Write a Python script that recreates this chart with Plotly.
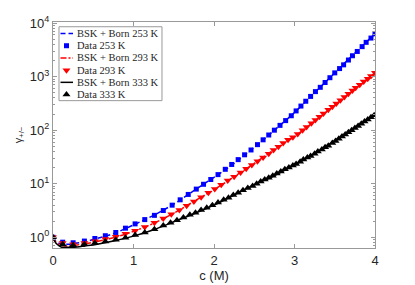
import plotly.graph_objects as go

# ---- data: markers ----
c_253 = [0, 0.12, 0.25, 0.39, 0.52, 0.65, 0.78, 0.90, 1.02, 1.14,
         1.26, 1.37, 1.48, 1.58, 1.68, 1.78, 1.87, 1.96, 2.05, 2.14,
         2.22, 2.30, 2.38, 2.46, 2.54, 2.61, 2.68, 2.75, 2.82, 2.89,
         2.96, 3.02, 3.08, 3.14, 3.20, 3.26, 3.32, 3.38, 3.44, 3.50,
         3.56, 3.61, 3.67, 3.72, 3.78, 3.84, 3.89, 3.95, 4.00]
g_253 = [1.0, 0.81, 0.79, 0.85, 0.95, 1.07, 1.23, 1.48, 1.78, 2.14,
         2.57, 3.16, 3.98, 5.01, 6.31, 7.94, 9.77, 12.0, 14.8, 18.6,
         22.9, 28.2, 34.7, 42.7, 53.7, 66.1, 81.3, 100, 123, 151,
         186, 229, 282, 347, 427, 525, 631, 776, 955, 1175,
         1413, 1660, 2042, 2455, 2951, 3631, 4365, 5248, 6310]

c_293 = [0, 0.12, 0.25, 0.39, 0.52, 0.65, 0.78, 0.90, 1.02, 1.14,
         1.26, 1.37, 1.47, 1.57, 1.66, 1.75, 1.84, 1.93, 2.01, 2.09,
         2.17, 2.25, 2.33, 2.40, 2.47, 2.54, 2.61, 2.68, 2.74, 2.80,
         2.86, 2.92, 2.98, 3.04, 3.10, 3.15, 3.21, 3.26, 3.31, 3.36,
         3.42, 3.47, 3.52, 3.57, 3.62, 3.67, 3.72, 3.76, 3.81, 3.86,
         3.91, 3.95, 4.00]
g_293 = [1.0, 0.78, 0.74, 0.78, 0.84, 0.93, 1.02, 1.16, 1.33, 1.55,
         1.86, 2.24, 2.69, 3.24, 3.89, 4.68, 5.62, 6.76, 7.94, 9.55,
         11.5, 13.5, 16.2, 19.1, 22.4, 26.3, 30.9, 36.3, 42.7, 49.0,
         57.5, 66.1, 74.1, 85.1, 100, 115, 135, 155, 178, 204,
         240, 275, 316, 363, 417, 479, 550, 617, 708, 813,
         912, 1023, 1175]

c_333 = [0, 0.12, 0.25, 0.39, 0.52, 0.65, 0.78, 0.90, 1.02, 1.14,
         1.26, 1.37, 1.46, 1.54, 1.62, 1.70, 1.77, 1.84, 1.91, 1.98,
         2.05, 2.12, 2.18, 2.24, 2.30, 2.36, 2.42, 2.48, 2.53, 2.58,
         2.63, 2.68, 2.73, 2.78, 2.83, 2.88, 2.93, 2.98, 3.02, 3.07,
         3.11, 3.16, 3.20, 3.25, 3.29, 3.34, 3.38, 3.42, 3.47, 3.51,
         3.55, 3.59, 3.63, 3.67, 3.71, 3.75, 3.79, 3.83, 3.87, 3.91,
         3.95, 3.99]
g_333 = [1.0, 0.74, 0.71, 0.74, 0.78, 0.83, 0.90, 0.98, 1.10, 1.23,
         1.41, 1.66, 1.86, 2.09, 2.34, 2.63, 2.88, 3.24, 3.55, 3.98,
         4.47, 5.01, 5.50, 6.17, 6.76, 7.59, 8.32, 9.12, 10.0, 11.0,
         12.0, 12.9, 14.1, 15.5, 17.0, 18.6, 20.0, 21.9, 23.4, 25.7,
         28.2, 30.9, 33.1, 36.3, 39.8, 43.7, 47.9, 51.3, 57.5, 63.1,
         69.2, 75.9, 83.2, 91.2, 100, 110, 120, 132, 145, 158,
         174, 191]

# ---- data: model curves (BSK + Born) ----
c_model = [0, 0.02, 0.05, 0.1, 0.15, 0.2, 0.3, 0.4, 0.5, 0.75, 1.0,
           1.25, 1.5, 1.75, 2.0, 2.25, 2.5, 2.75, 3.0, 3.25, 3.5, 3.75, 4.0]
m_253 = [1.0, 0.89, 0.81, 0.76, 0.74, 0.74, 0.78, 0.83, 0.91, 1.17, 1.70,
         2.57, 4.17, 7.41, 13.2, 24.0, 47.9, 100, 214, 501, 1175, 2754, 6310]
m_293 = [1.0, 0.87, 0.78, 0.71, 0.69, 0.69, 0.72, 0.76, 0.81, 0.98, 1.29,
         1.82, 2.82, 4.68, 7.76, 13.5, 24.0, 43.7, 75.9, 148, 295, 589, 1175]
m_333 = [1.0, 0.85, 0.74, 0.66, 0.65, 0.65, 0.66, 0.69, 0.72, 0.85, 1.05,
         1.38, 1.95, 2.75, 3.98, 6.17, 9.55, 14.1, 22.4, 36.3, 63.1, 110, 195]

legend_labels = ["BSK + Born 253 K", "Data 253 K", "BSK + Born 293 K",
                 "Data 293 K", "BSK + Born 333 K", "Data 333 K"]

y_tickvals = [1, 10, 100, 1000, 10000]
y_ticktext = ["10<sup>0</sup>", "10<sup>1</sup>", "10<sup>2</sup>",
              "10<sup>3</sup>", "10<sup>4</sup>"]
x_tickvals = [0, 1, 2, 3, 4]

BLUE, RED, BLACK = "#0000FF", "#FF0000", "#000000"
AX = "#999999"
TXT = "#262626"
DASH_B = "5px,3px"
DASH_R = "6px,2px,2px,2px"

styles = [
    dict(kind="line", color=BLUE, dash=DASH_B),
    dict(kind="marker", color=BLUE, symbol="square", size=5),
    dict(kind="line", color=RED, dash=DASH_R),
    dict(kind="marker", color=RED, symbol="triangle-down", size=7),
    dict(kind="line", color=BLACK, dash="solid"),
    dict(kind="marker", color=BLACK, symbol="triangle-up", size=7),
]

fig = go.Figure()
fig.add_trace(go.Scatter(x=c_model, y=m_253, mode="lines", name=legend_labels[0],
                         line=dict(color=BLUE, width=1.5, dash=DASH_B), line_shape="spline"))
fig.add_trace(go.Scatter(x=c_253, y=g_253, mode="markers", name=legend_labels[1],
                         marker=dict(color=BLUE, symbol="square", size=5)))
fig.add_trace(go.Scatter(x=c_model, y=m_293, mode="lines", name=legend_labels[2],
                         line=dict(color=RED, width=1.5, dash=DASH_R), line_shape="spline"))
fig.add_trace(go.Scatter(x=c_293, y=g_293, mode="markers", name=legend_labels[3],
                         marker=dict(color=RED, symbol="triangle-down", size=7)))
fig.add_trace(go.Scatter(x=c_model, y=m_333, mode="lines", name=legend_labels[4],
                         line=dict(color=BLACK, width=1.5), line_shape="spline"))
fig.add_trace(go.Scatter(x=c_333, y=g_333, mode="markers", name=legend_labels[5],
                         marker=dict(color=BLACK, symbol="triangle-up", size=7)))

# ---- compact legend (drawn on an overlay axis spanning the plot area) ----
LEG_X0, LEG_X1, LEG_Y0, LEG_Y1 = 0.0186, 0.3385, 0.652, 0.979
row_y = [0.949, 0.895, 0.841, 0.787, 0.733, 0.679]
line_x = [0.0233, 0.0621]
mark_x = 0.0419
text_x = 0.0683

fig.add_shape(type="rect", xref="paper", yref="paper", x0=LEG_X0, x1=LEG_X1,
              y0=LEG_Y0, y1=LEG_Y1, line=dict(color=AX, width=1), fillcolor="white",
              layer="below")
for lab, st, yy in zip(legend_labels, styles, row_y):
    if st["kind"] == "line":
        fig.add_trace(go.Scatter(x=line_x, y=[yy, yy], mode="lines", xaxis="x2", yaxis="y2",
                                 line=dict(color=st["color"], width=1.5, dash=st["dash"]),
                                 showlegend=False, hoverinfo="skip"))
    else:
        fig.add_trace(go.Scatter(x=[mark_x], y=[yy], mode="markers", xaxis="x2", yaxis="y2",
                                 marker=dict(color=st["color"], symbol=st["symbol"], size=st["size"]),
                                 showlegend=False, hoverinfo="skip"))
    fig.add_annotation(x=text_x, y=yy, xref="paper", yref="paper", text=lab,
                       showarrow=False, xanchor="left", yanchor="middle",
                       font=dict(family="Liberation Serif, Times New Roman", size=10.5, color=TXT))

# page body has an 8px margin, so the figure margins compensate for it
fig.update_layout(
    width=415, height=285,
    margin=dict(l=45, r=48, t=14, b=45, autoexpand=False),
    paper_bgcolor="white", plot_bgcolor="white",
    font=dict(family="Liberation Sans, Arial", color=TXT, size=13),
    showlegend=False,
    xaxis2=dict(overlaying="x", range=[0, 1], visible=False, fixedrange=True),
    yaxis2=dict(overlaying="y", range=[0, 1], visible=False, fixedrange=True),
)
fig.layout.xaxis.update(range=[0, 4], tickvals=x_tickvals, ticks="inside", ticklen=4,
                        tickcolor=AX, showline=True, linecolor=AX, linewidth=1, mirror="ticks",
                        showgrid=False, zeroline=False, automargin=False,
                        title=dict(text="c (M)", standoff=4, font=dict(size=13)))
fig.layout.yaxis.update(type="log", range=[-0.2, 4.02], tickvals=y_tickvals, ticktext=y_ticktext,
                        ticks="inside", ticklen=4, tickcolor=AX, showline=True, linecolor=AX,
                        linewidth=1, mirror="ticks", showgrid=False, zeroline=False,
                        automargin=False,
                        minor=dict(ticks="inside", ticklen=2, tickcolor=AX, dtick="D1", showgrid=False),
                        title=dict(text="γ<sub>+/−</sub>", standoff=5, font=dict(size=11)))

fig.write_html("out.html")
